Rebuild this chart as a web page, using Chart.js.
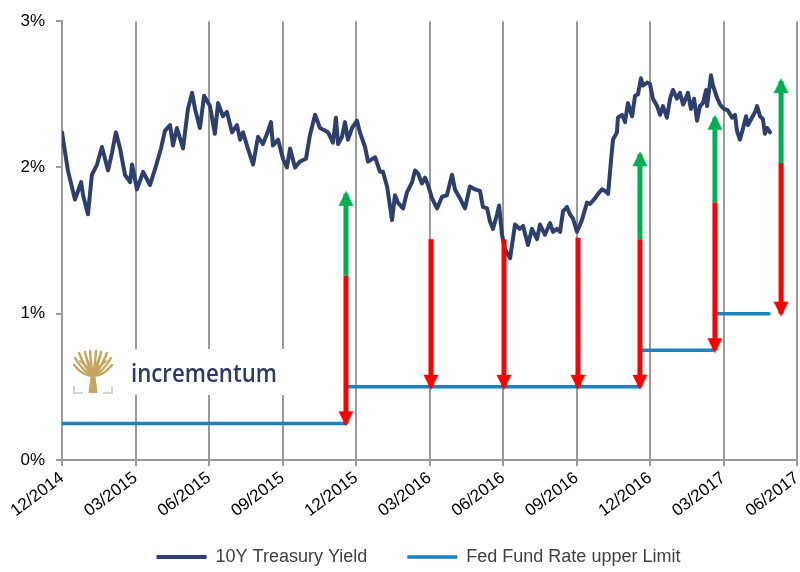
<!DOCTYPE html>
<html>
<head>
<meta charset="utf-8">
<script src="https://cdn.jsdelivr.net/npm/chart.js@4.4.1/dist/chart.umd.min.js"></script>
<style>
html,body{margin:0;padding:0;background:#fff;}
#c{display:block;}
</style>
</head>
<body>
<canvas id="c" width="800" height="572"></canvas>
<script>
// ---- data (x = months since Dec 2014) ----
const xTickLabels = ['12/2014','03/2015','06/2015','09/2015','12/2015','03/2016','06/2016','09/2016','12/2016','03/2017','06/2017'];

const yieldMonth = [0.00,0.24,0.53,0.78,0.86,1.06,1.22,1.43,1.63,1.88,2.04,2.20,2.37,2.57,2.78,2.86,3.06,3.31,3.59,3.80,
4.04,4.20,4.41,4.53,4.69,4.94,5.14,5.31,5.43,5.63,5.80,6.04,6.24,6.37,6.57,6.73,6.94,7.14,7.27,7.39,
7.55,7.80,8.00,8.20,8.37,8.53,8.61,8.82,9.02,9.18,9.31,9.51,9.71,9.96,10.12,10.33,10.53,10.86,11.06,11.18,
11.27,11.43,11.55,11.67,11.84,12.04,12.16,12.37,12.49,12.78,12.98,13.10,13.27,13.47,13.59,13.71,13.92,14.08,14.29,14.41,
14.53,14.69,14.82,14.94,15.10,15.31,15.51,15.71,15.92,16.04,16.24,16.45,16.65,16.86,17.06,17.18,17.35,17.47,17.59,17.76,
17.84,17.96,18.08,18.29,18.49,18.69,18.82,19.02,19.18,19.39,19.51,19.71,19.92,20.04,20.20,20.33,20.45,20.61,20.73,20.86,
21.02,21.22,21.43,21.55,21.76,21.88,22.04,22.16,22.29,22.41,22.49,22.65,22.69,22.86,22.98,23.10,23.27,23.39,23.51,23.63,
23.71,23.88,24.00,24.12,24.29,24.41,24.53,24.69,24.82,24.94,25.10,25.22,25.35,25.43,25.55,25.67,25.80,25.92,26.04,26.16,
26.29,26.33,26.49,26.57,26.73,26.86,27.02,27.18,27.35,27.47,27.55,27.67,27.80,27.92,28.00,28.16,28.29,28.37,28.49,28.61,
28.69,28.78,28.90];

const yieldPct = [2.24,1.98,1.78,1.90,1.81,1.68,1.95,2.02,2.14,1.98,2.10,2.24,2.13,1.95,1.90,2.02,1.85,1.97,1.88,1.99,
2.13,2.25,2.29,2.15,2.27,2.13,2.40,2.51,2.40,2.27,2.49,2.42,2.23,2.44,2.35,2.38,2.24,2.29,2.19,2.24,
2.15,2.02,2.21,2.16,2.23,2.31,2.15,2.19,2.06,2.00,2.13,2.00,2.04,2.06,2.22,2.36,2.27,2.24,2.17,2.34,
2.16,2.21,2.31,2.19,2.27,2.32,2.24,2.14,2.04,2.07,1.97,1.97,1.87,1.64,1.81,1.76,1.72,1.83,1.90,1.98,
1.96,1.89,1.93,1.88,1.79,1.72,1.80,1.81,1.95,1.85,1.79,1.72,1.87,1.85,1.84,1.73,1.72,1.63,1.58,1.68,
1.74,1.54,1.44,1.38,1.61,1.58,1.60,1.47,1.58,1.51,1.61,1.54,1.62,1.56,1.58,1.56,1.70,1.73,1.68,1.65,
1.56,1.64,1.76,1.75,1.79,1.82,1.85,1.84,1.82,2.05,2.19,2.24,2.34,2.36,2.31,2.44,2.35,2.49,2.50,2.61,
2.56,2.58,2.57,2.47,2.42,2.36,2.42,2.34,2.47,2.53,2.47,2.51,2.43,2.46,2.51,2.40,2.47,2.32,2.42,2.44,
2.53,2.42,2.63,2.56,2.48,2.43,2.40,2.39,2.34,2.36,2.25,2.19,2.27,2.35,2.29,2.34,2.38,2.42,2.35,2.33,
2.23,2.27,2.24];

const fedStart = [0, 11.63, 23.67, 26.73];
const fedEnd   = [11.55, 23.59, 26.57, 28.86];
const fedRate  = [0.25, 0.50, 0.75, 1.00];

const redArrowX    = [11.59, 15.06, 18.04, 21.06, 23.59, 26.65, 29.35];
const redArrowFrom = [1.26, 1.51, 1.51, 1.52, 1.51, 1.76, 2.03];
const redArrowTo   = [0.25, 0.50, 0.50, 0.50, 0.50, 0.75, 1.00];

const greenArrowX    = [11.59, 23.59, 26.65, 29.35];
const greenArrowFrom = [1.26, 1.51, 1.76, 2.03];
const greenArrowTo   = [1.82, 2.09, 2.34, 2.59];

// ---- build series ----
const yieldData = yieldMonth.map((m, i) => ({x: m, y: yieldPct[i]}));
const fedData = [];
fedRate.forEach((r, i) => {
  fedData.push({x: fedStart[i], y: r}, {x: fedEnd[i], y: r});
  if (i < fedRate.length - 1) fedData.push({x: (fedEnd[i] + fedStart[i+1]) / 2, y: null});
});
function arrowData(xs, from, to) {
  const d = [];
  xs.forEach((x, i) => { d.push({x: x, y: from[i]}, {x: x, y: to[i]}, {x: x, y: null}); });
  return d;
}
function makeHead(color) {
  const c = document.createElement('canvas');
  c.width = 16; c.height = 40;
  const g = c.getContext('2d');
  g.fillStyle = color;
  g.beginPath();
  g.moveTo(8, 17);
  g.lineTo(15.5, 32);
  g.lineTo(0.5, 32);
  g.closePath();
  g.fill();
  return c;
}
const RED = '#ff0000', GREEN = '#00b050';
const redHead = makeHead(RED), greenHead = makeHead(GREEN);

const FONT = "'Liberation Sans', Arial, sans-serif";
const GRID = '#9a9a9a';

const logoPlugin = {
  id: 'logo',
  beforeDatasetsDraw(chart) {
    const g = chart.ctx;
    g.save();
    g.fillStyle = '#ffffff';
    g.fillRect(66, 349, 221, 46);
    // tree icon
    g.strokeStyle = '#c6a55e';
    g.fillStyle = '#c6a55e';
    g.lineCap = 'round';
    g.lineWidth = 2.4;
    const base = [93, 376];
    const tips = [[74,365],[75,358],[79,353],[85,352],[90,351],[96,351],[101,352],[107,353],[111,358],[112,365]];
    tips.forEach(t => {
      g.beginPath();
      g.moveTo(base[0], base[1]);
      g.quadraticCurveTo((base[0] + t[0]) / 2, (base[1] + t[1]) / 2 + 6, t[0], t[1]);
      g.stroke();
    });
    g.lineWidth = 1.8;
    [[80,361],[86,356],[100,356],[106,361]].forEach(t => {
      g.beginPath(); g.moveTo(93, 372); g.lineTo(t[0], t[1]); g.stroke();
    });
    g.beginPath();
    g.moveTo(88.5, 393); g.lineTo(97.5, 393); g.lineTo(95, 372); g.lineTo(91, 372); g.closePath();
    g.fill();
    g.strokeStyle = '#d4d4d4';
    g.lineWidth = 2;
    g.lineCap = 'butt';
    g.beginPath();
    g.moveTo(74, 386); g.lineTo(74, 393); g.lineTo(83, 393);
    g.moveTo(112, 386); g.lineTo(112, 393); g.lineTo(103, 393);
    g.stroke();
    // wordmark
    g.fillStyle = '#2b3a66';
    g.font = "600 26px 'Open Sans', sans-serif";
    g.textBaseline = 'alphabetic';
    const w = g.measureText('incrementum').width;
    g.translate(131, 382);
    g.scale(146 / w, 1);
    g.fillText('incrementum', 0, 0);
    g.restore();
  }
};

const legendPatch = {
  id: 'legendPatch',
  afterInit(chart) {
    const lg = chart.legend;
    if (!lg) return;
    const origFit = lg.fit.bind(lg);
    lg.fit = function () { origFit(); this.height = 50; };
    const origDraw = lg.draw.bind(lg);
    lg.draw = function () {
      const s = {l: this.left, t: this.top, b: this.bottom, h: this.height};
      this.left = s.l + 40;
      this.top = s.t - 14;
      this.bottom = this.top + 90;
      this.height = 90;
      origDraw();
      this.left = s.l; this.top = s.t; this.bottom = s.b; this.height = s.h;
    };
  }
};

new Chart(document.getElementById('c'), {
  type: 'line',
  data: {
    datasets: [
      { label: '10Y Treasury Yield', data: yieldData, borderColor: '#2d3f6c', backgroundColor: '#2d3f6c',
        borderWidth: 4, pointRadius: 0, tension: 0, borderJoinStyle: 'round', borderCapStyle: 'round', order: 2 },
      { label: 'Fed Fund Rate upper Limit', data: fedData, borderColor: '#1b82be', backgroundColor: '#1b82be',
        borderWidth: 3.5, pointRadius: 0, tension: 0, spanGaps: false, borderCapStyle: 'round', order: 1 },
      { label: 'down', data: arrowData(redArrowX, redArrowFrom, redArrowTo), borderColor: RED,
        borderWidth: 5, borderCapStyle: 'butt', spanGaps: false, order: 0,
        pointStyle: c => (c.dataIndex % 3 === 1 ? redHead : 'circle'),
        pointRadius: c => (c.dataIndex % 3 === 1 ? 8 : 0), pointRotation: 180 },
      { label: 'up', data: arrowData(greenArrowX, greenArrowFrom, greenArrowTo), borderColor: GREEN,
        borderWidth: 5, borderCapStyle: 'butt', spanGaps: false, order: 0,
        pointStyle: c => (c.dataIndex % 3 === 1 ? greenHead : 'circle'),
        pointRadius: c => (c.dataIndex % 3 === 1 ? 8 : 0), pointRotation: 0 }
    ]
  },
  options: {
    responsive: false,
    animation: false,
    devicePixelRatio: 1,
    events: [],
    layout: { padding: { left: 0, right: 3, top: 18, bottom: 0 } },
    plugins: {
      tooltip: { enabled: false },
      legend: {
        position: 'bottom',
        labels: {
          filter: item => item.datasetIndex < 2,
          sort: (a, b) => a.datasetIndex - b.datasetIndex,
          usePointStyle: true, pointStyle: 'line', pointStyleWidth: 50,
          padding: 40, color: '#404040',
          font: { family: FONT, size: 18 }
        }
      }
    },
    scales: {
      x: {
        type: 'linear', min: 0, max: 30,
        ticks: {
          stepSize: 3, autoSkip: false, minRotation: 37, maxRotation: 37,
          callback: v => xTickLabels[Math.round(v / 3)],
          color: '#000', padding: 2, font: { family: FONT, size: 17 }
        },
        grid: { color: GRID, lineWidth: 2, tickLength: 6, drawTicks: true },
        border: { color: GRID, width: 2 },
        afterFit: s => { s.height = 62; s.paddingRight = 0; s.paddingLeft = 0; }
      },
      y: {
        min: 0, max: 3,
        ticks: { stepSize: 1, callback: v => v + '%', color: '#000', padding: 11, font: { family: FONT, size: 17 } },
        grid: { drawOnChartArea: false, drawTicks: true, tickLength: 6, color: GRID, lineWidth: 2 },
        border: { color: GRID, width: 2 },
        afterFit: s => { s.width = 62; }
      }
    }
  },
  plugins: [logoPlugin, legendPatch]
});
</script>
</body>
</html>
